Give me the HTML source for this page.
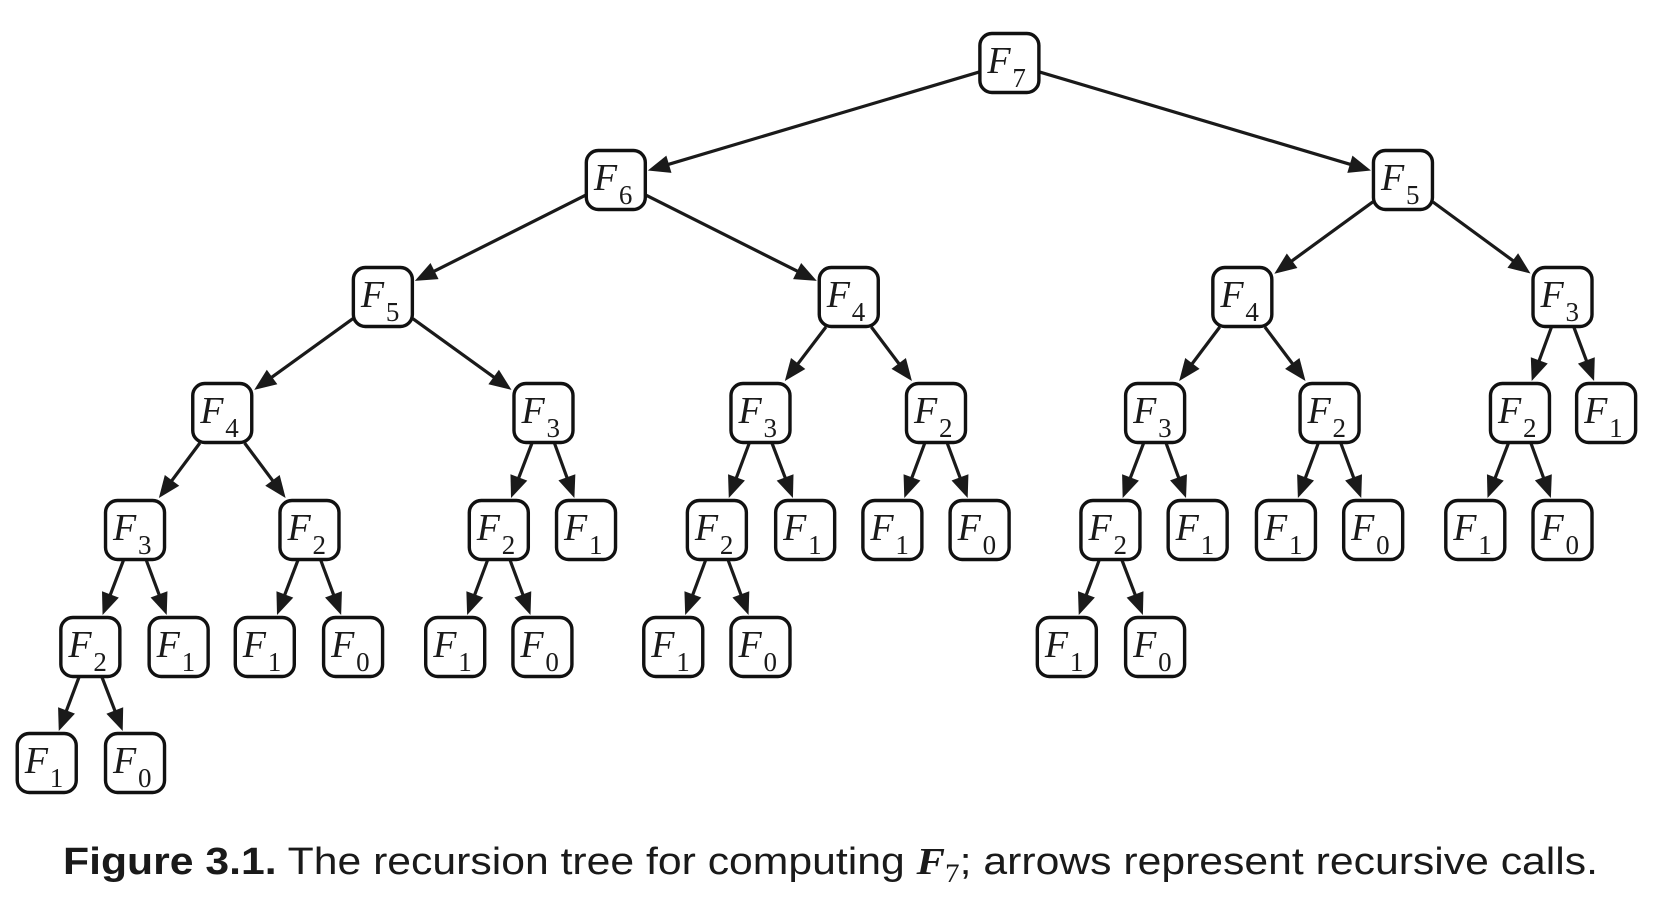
<!DOCTYPE html>
<html><head><meta charset="utf-8">
<style>
html,body{margin:0;padding:0;background:#fff;}
svg{display:block;}
.lbl{font-family:"Liberation Serif",serif;font-style:italic;font-size:38px;fill:#1a1a1a;}
.sub{font-family:"Liberation Serif",serif;font-style:normal;font-size:27px;fill:#1a1a1a;}
</style></head>
<body>
<svg id="s" width="1670" height="912" viewBox="0 0 1670 912" xmlns="http://www.w3.org/2000/svg">
<g id="edges"></g><g id="nodes"></g>
<text x="63" y="874" font-family="Liberation Sans, sans-serif" font-size="38" fill="#1a1a1a" textLength="1535" lengthAdjust="spacingAndGlyphs"><tspan font-weight="bold">Figure 3.1.</tspan> The recursion tree for computing <tspan font-family="Liberation Serif, serif" font-style="italic" font-weight="bold">F</tspan><tspan font-family="Liberation Serif, serif" font-size="26" dy="8">7</tspan><tspan dy="-8">; arrows represent recursive calls.</tspan></text>
</svg>
<script>
var X=function(d){return 1.0637*d+1;};
var rows=[33,150,267,383,500,617,733];
var N=[
["a",948,0,7,null],
["b",578,1,6,"a"],["c",1318,1,5,"a"],
["d",359,2,5,"b"],["e",797,2,4,"b"],["f",1167,2,4,"c"],["g",1468,2,3,"c"],
["h",208,3,4,"d"],["i",510,3,3,"d"],["j",714,3,3,"e"],["k",879,3,2,"e"],["l",1085,3,3,"f"],["m",1249,3,2,"f"],["n",1428,3,2,"g"],["o",1509,3,1,"g"],
["p",126,4,3,"h"],["q",290,4,2,"h"],["r",468,4,2,"i"],["s",550,4,1,"i"],["t",673,4,2,"j"],["u",756,4,1,"j"],["v",838,4,1,"k"],["w",920,4,0,"k"],["x",1043,4,2,"l"],["y",1125,4,1,"l"],["z",1208,4,1,"m"],["A",1290,4,0,"m"],["B",1386,4,1,"n"],["C",1468,4,0,"n"],
["D",84,5,2,"p"],["E",167,5,1,"p"],["F",248,5,1,"q"],["G",331,5,0,"q"],["H",427,5,1,"r"],["I",509,5,0,"r"],["J",632,5,1,"t"],["K",714,5,0,"t"],["L",1002,5,1,"x"],["M",1085,5,0,"x"],
["O",43,6,1,"D"],["P",126,6,0,"D"]
];
var ns="http://www.w3.org/2000/svg",P={};
var E=document.getElementById("edges"),G=document.getElementById("nodes");
function el(t,a,p){var e=document.createElementNS(ns,t);for(var k in a)e.setAttribute(k,a[k]);p.appendChild(e);return e;}
N.forEach(function(n){P[n[0]]={x:X(n[1]),y:rows[n[2]]+30};});
function clip(cx,cy,dx,dy,h){var t=Math.min(h/Math.abs(dx||1e-9),h/Math.abs(dy||1e-9));return [cx+dx*t,cy+dy*t];}
N.forEach(function(n){
 var c=P[n[0]];
 if(n[4]){var p=P[n[4]];var dx=c.x-p.x,dy=c.y-p.y;
  var s=clip(p.x,p.y,dx,dy,30),e=clip(c.x,c.y,-dx,-dy,32);
  var L=Math.hypot(e[0]-s[0],e[1]-s[1]),ux=(e[0]-s[0])/L,uy=(e[1]-s[1])/L;
  var bx=e[0]-ux*22,by=e[1]-uy*22;
  el("line",{x1:s[0],y1:s[1],x2:bx+ux*2,y2:by+uy*2,stroke:"#1a1a1a","stroke-width":3.2},E);
  el("polygon",{points:e[0]+","+e[1]+" "+(bx-uy*9)+","+(by+ux*9)+" "+(bx+uy*9)+","+(by-ux*9),fill:"#1a1a1a"},E);
 }
 el("rect",{x:c.x-29.5,y:c.y-29.5,width:59,height:59,rx:12,ry:12,fill:"#fff",stroke:"#111","stroke-width":3.4},G);
 var t=el("text",{x:c.x-22,y:c.y+10,"class":"lbl"},G);t.textContent="F";
 var s2=el("text",{x:c.x+3,y:c.y+24,"class":"sub"},G);s2.textContent=String(n[3]);
});
</script>
</body></html>
